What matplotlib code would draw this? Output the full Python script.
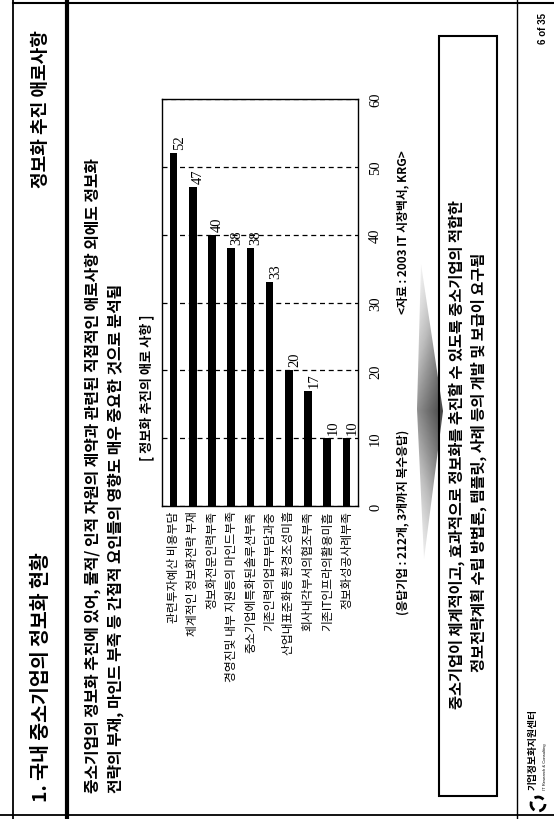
import numpy as np
import matplotlib
matplotlib.use("Agg")
import matplotlib.pyplot as plt
from matplotlib.patches import Polygon, Rectangle, Arc

plt.rcParams['font.family'] = ['Noto Sans CJK KR', 'DejaVu Sans']

# data
categories = ["관련투자예산 비용부담", "체계적인 정보화전략 부재", "정보화전문인력부족",
              "경영진및 내부 지원등의 마인드부족", "중소기업에특화된솔루션부족",
              "기존인력의업무부담과중", "산업내표준화등 환경조성미흡",
              "회사내각부서의협조부족", "기존IT인프라의활용미흡", "정보화성공사례부족"]
values = [52, 47, 40, 38, 38, 33, 20, 17, 10, 10]
value_ticks = [0, 10, 20, 30, 40, 50, 60]

title = "1. 국내 중소기업의 정보화 현황"
section = "정보화 추진 애로사항"
intro1 = "중소기업의 정보화 추진에 있어, 물적/ 인적 자원의 제약과 관련된 직접적인 애로사항 외에도 정보화"
intro2 = "전략의 부재, 마인드 부족 등 간접적 요인들의 영향도 매우 중요한 것으로 분석됨"
chart_title = "[ 정보화 추진의 애로 사항 ]"
note_resp = "(응답기업 : 212개, 3개까지 복수응답)"
note_src = "<자료 : 2003 IT 시장백서, KRG>"
box1 = "중소기업이 체계적이고, 효과적으로 정보화를 추진할 수 있도록 중소기업의 적합한"
box2 = "정보전략계획 수립 방법론, 템플릿, 사례 등의 개발 및 보급이 요구됨"

W, H = 554, 820
fig = plt.figure(figsize=(W / 100, H / 100), dpi=100)

# page layer in pixel coordinates (page is printed sideways)
bg = fig.add_axes([0, 0, 1, 1])
bg.set_xlim(0, W)
bg.set_ylim(H, 0)
bg.axis('off')

bg.plot([13, 13], [0, H], color='k', lw=1.3)
bg.plot([67, 67], [0, H], color='k', lw=3)
bg.plot([13, W], [4, 4], color='k', lw=1.5)
bg.plot([0, W], [816, 816], color='k', lw=1.3)
bg.plot([517, 517], [0, H], color='k', lw=1)

bg.text(41, 802, title, rotation=90, ha='center', va='bottom', fontsize=14, fontweight='bold')
bg.text(41, 30, section, rotation=90, ha='center', va='top', fontsize=13, fontweight='bold')
bg.text(93, 793, intro1, rotation=90, ha='center', va='bottom', fontsize=11.4, fontweight='bold')
bg.text(116, 793, intro2, rotation=90, ha='center', va='bottom', fontsize=11.4, fontweight='bold')
bg.text(147, 388, chart_title, rotation=90, ha='center', va='center', fontsize=9.5, fontweight='bold')
bg.text(403, 615, note_resp, rotation=90, ha='center', va='bottom', fontsize=8.5, fontweight='bold')
bg.text(403, 150, note_src, rotation=90, ha='center', va='top', fontsize=8.5, fontweight='bold')

# shaded wedge arrow
wedge = Polygon([(421, 265), (443, 412), (424, 560), (417, 410)], closed=True,
                facecolor='none', edgecolor='none')
bg.add_patch(wedge)
yy = np.linspace(265, 560, 200)
xx = np.linspace(415, 445, 40)
gx, gy = np.meshgrid(xx, yy)
shade = np.clip(1 - np.abs(gy - 412) / 160, 0, 1) * 0.55 + (gx - 415) / 30 * 0.35
im = bg.imshow(shade, extent=(415, 445, 560, 265), cmap='Greys', vmin=0, vmax=1.1,
               aspect='auto', interpolation='bilinear')
im.set_clip_path(wedge)

bg.add_patch(Rectangle((439, 37), 58, 760, fill=False, edgecolor='k', lw=1.5))
bg.text(457, 455, box1, rotation=90, ha='center', va='center', fontsize=11, fontweight='bold')
bg.text(479, 462, box2, rotation=90, ha='center', va='center', fontsize=11, fontweight='bold')

bg.text(543, 13, "6 of 35", rotation=90, ha='center', va='top', fontsize=7, fontweight='bold',
        family='Liberation Sans')
bg.text(533, 790, "기업정보화지원센터", rotation=90, ha='center', va='bottom', fontsize=7, fontweight='bold')
bg.text(545, 790, "IT Research & Consulting", rotation=90, ha='center', va='bottom', fontsize=3,
        family='Liberation Sans')
for a0 in (0, 120, 240):
    bg.add_patch(Arc((538, 805), 14, 14, theta1=a0, theta2=a0 + 80, color='k', lw=2))

# bar chart
ax = fig.add_axes([162 / W, 1 - 507 / H, 196 / W, 407 / H])
pos = np.arange(len(categories))
ax.bar(pos, values, width=0.4, color='k', zorder=3)
ax.set_xlim(-0.6, len(categories) - 0.4)
ax.set_ylim(value_ticks[0], value_ticks[-1])
ax.set_yticks(value_ticks)
ax.yaxis.tick_right()
ax.tick_params(axis='y', length=0, pad=8)
ax.set_yticklabels([str(t) for t in value_ticks], rotation=90, va='center', ha='left',
                   family='Liberation Serif', fontsize=10.5)
ax.set_xticks(pos)
ax.set_xticklabels(categories, rotation=90, fontsize=8.5)
ax.tick_params(axis='x', length=0, pad=3)
ax.grid(axis='y', color='k', lw=0.9, ls=(0, (4, 3)), zorder=1)
for s in ax.spines.values():
    s.set_linewidth(1)
    s.set_color('k')
for p, v in zip(pos, values):
    ax.text(p + 0.3, v + 0.6, str(v), rotation=90, ha='center', va='bottom',
            family='Liberation Serif', fontsize=10.5)

fig.savefig("out.png", dpi=100, facecolor='white')
